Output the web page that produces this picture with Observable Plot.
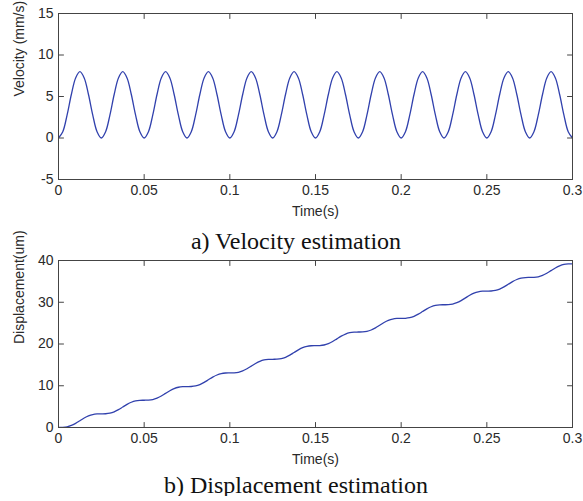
<!DOCTYPE html>
<html><head><meta charset="utf-8">
<script src="https://cdn.jsdelivr.net/npm/d3@7"></script>
<script src="https://cdn.jsdelivr.net/npm/@observablehq/plot@0.6"></script>
<style>
body{margin:0;background:#fff;width:583px;}
.cap{font-family:"Liberation Serif","Times New Roman",serif;font-size:24px;text-align:center;color:#111;white-space:nowrap;padding-left:9px;}
</style></head><body><div id="c"></div>
<script>
// time samples (s)
const time = [
0,0.0025,0.005,0.0075,0.01,0.0125,0.015,0.0175,0.02,0.0225,
0.025,0.0275,0.03,0.0325,0.035,0.0375,0.04,0.0425,0.045,0.0475,
0.05,0.0525,0.055,0.0575,0.06,0.0625,0.065,0.0675,0.07,0.0725,
0.075,0.0775,0.08,0.0825,0.085,0.0875,0.09,0.0925,0.095,0.0975,
0.1,0.1025,0.105,0.1075,0.11,0.1125,0.115,0.1175,0.12,0.1225,
0.125,0.1275,0.13,0.1325,0.135,0.1375,0.14,0.1425,0.145,0.1475,
0.15,0.1525,0.155,0.1575,0.16,0.1625,0.165,0.1675,0.17,0.1725,
0.175,0.1775,0.18,0.1825,0.185,0.1875,0.19,0.1925,0.195,0.1975,
0.2,0.2025,0.205,0.2075,0.21,0.2125,0.215,0.2175,0.22,0.2225,
0.225,0.2275,0.23,0.2325,0.235,0.2375,0.24,0.2425,0.245,0.2475,
0.25,0.2525,0.255,0.2575,0.26,0.2625,0.265,0.2675,0.27,0.2725,
0.275,0.2775,0.28,0.2825,0.285,0.2875,0.29,0.2925,0.295,0.2975,
0.3];
// velocity (mm/s)
const velocity = [
0,0.76,2.76,5.24,7.24,8,7.24,5.24,2.76,0.76,
0,0.76,2.76,5.24,7.24,8,7.24,5.24,2.76,0.76,
0,0.76,2.76,5.24,7.24,8,7.24,5.24,2.76,0.76,
0,0.76,2.76,5.24,7.24,8,7.24,5.24,2.76,0.76,
0,0.76,2.76,5.24,7.24,8,7.24,5.24,2.76,0.76,
0,0.76,2.76,5.24,7.24,8,7.24,5.24,2.76,0.76,
0,0.76,2.76,5.24,7.24,8,7.24,5.24,2.76,0.76,
0,0.76,2.76,5.24,7.24,8,7.24,5.24,2.76,0.76,
0,0.76,2.76,5.24,7.24,8,7.24,5.24,2.76,0.76,
0,0.76,2.76,5.24,7.24,8,7.24,5.24,2.76,0.76,
0,0.76,2.76,5.24,7.24,8,7.24,5.24,2.76,0.76,
0,0.76,2.76,5.24,7.24,8,7.24,5.24,2.76,0.76,
0];
// displacement (um)
const displacement = [
0,0.02,0.16,0.49,1.00,1.63,2.27,2.78,3.11,3.25,
3.27,3.29,3.43,3.75,4.27,4.90,5.53,6.05,6.38,6.51,
6.53,6.56,6.69,7.02,7.54,8.17,8.80,9.32,9.64,9.78,
9.80,9.82,9.96,10.29,10.80,11.43,12.07,12.58,12.91,13.05,
13.07,13.09,13.23,13.55,14.07,14.70,15.33,15.85,16.18,16.31,
16.34,16.36,16.49,16.82,17.34,17.97,18.60,19.12,19.44,19.58,
19.60,19.62,19.76,20.09,20.60,21.24,21.87,22.38,22.71,22.85,
22.87,22.89,23.03,23.35,23.87,24.50,25.14,25.65,25.98,26.12,
26.14,26.16,26.30,26.62,27.14,27.77,28.40,28.92,29.24,29.38,
29.40,29.42,29.56,29.89,30.40,31.04,31.67,32.19,32.51,32.65,
32.67,32.69,32.83,33.16,33.67,34.30,34.94,35.45,35.78,35.92,
35.94,35.96,36.10,36.42,36.94,37.57,38.20,38.72,39.05,39.18,
39.20];
const xTicks = [0,0.05,0.1,0.15,0.2,0.25,0.3];
const xTickLabels = ["0","0.05","0.1","0.15","0.2","0.25","0.3"];
const velTicks = [-5,0,5,10,15];
const velTickLabels = ["-5","0","5","10","15"];
const dispTicks = [0,10,20,30,40];
const dispTickLabels = ["0","10","20","30","40"];
const xTitle = "Time(s)";
const velTitle = "Velocity (mm/s)";
const dispTitle = "Displacement(um)";
const captions = ["a) Velocity estimation","b) Displacement estimation"];

const lineShape = {draw(ctx, l) { ctx.moveTo(0, 0); ctx.lineTo(0, -l); }};
const AX = "#444";
const TXT = "#2a2a2a";
const FONT = "'Liberation Sans', Arial, sans-serif";

function panel(values, yDomain, yTicks, yTickLabels, yTitle, marginTop, height) {
  const data = time.map((t, i) => ({t, v: values[i]}));
  const tick = (o) => Plot.vector(o.data, {...o, length: 5, anchor: "start", shape: lineShape, stroke: AX, strokeWidth: 1});
  return Plot.plot({
    width: 583, height, marginTop, marginBottom: 47, marginLeft: 58, marginRight: 11,
    style: {overflow: "visible", fontFamily: FONT, background: "#fff"},
    x: {domain: [0, 0.3]},
    y: {domain: yDomain},
    marks: [
      Plot.line(data, {x: "t", y: "v", stroke: "#3141ad", strokeWidth: 1.3, curve: "catmull-rom", clip: true}),
      Plot.frame({stroke: AX, strokeWidth: 1}),
      tick({data: xTicks, x: d => d, frameAnchor: "bottom", rotate: 0}),
      tick({data: xTicks, x: d => d, frameAnchor: "top", rotate: 180}),
      tick({data: yTicks, y: d => d, frameAnchor: "left", rotate: 90}),
      tick({data: yTicks, y: d => d, frameAnchor: "right", rotate: -90}),
      Plot.axisX(xTicks, {anchor: "bottom", tickSize: 0, tickPadding: 6, fontSize: 14, fill: TXT, label: null,
        tickFormat: d => xTickLabels[xTicks.indexOf(d)]}),
      Plot.axisY(yTicks, {anchor: "left", tickSize: 0, tickPadding: 5, fontSize: 14, fill: TXT, label: null,
        tickFormat: d => yTickLabels[yTicks.indexOf(d)]}),
      Plot.text([xTitle], {frameAnchor: "bottom", dy: 32, text: d => d, fontSize: 14, fill: TXT, lineAnchor: "middle"}),
      Plot.text([yTitle], {frameAnchor: "left", dx: -39, rotate: -90, text: d => d, fontSize: 14, fill: TXT, lineAnchor: "middle"})
    ]
  });
}

const root = document.getElementById("c");
root.appendChild(panel(velocity, [-5, 15], velTicks, velTickLabels, velTitle, 13, 226));
const c1 = document.createElement("div"); c1.className = "cap"; c1.style.height = "30px"; c1.style.lineHeight = "30px"; c1.textContent = captions[0];
root.appendChild(c1);
root.appendChild(panel(displacement, [0, 40], dispTicks, dispTickLabels, dispTitle, 4, 218));
const c2 = document.createElement("div"); c2.className = "cap"; c2.style.height = "22px"; c2.style.lineHeight = "22px"; c2.textContent = captions[1];
root.appendChild(c2);
</script></body></html>
